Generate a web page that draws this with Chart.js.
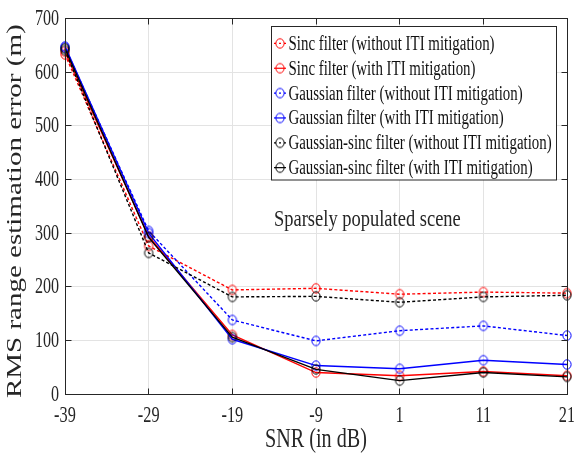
<!DOCTYPE html>
<html><head><meta charset="utf-8">
<script src="https://cdn.jsdelivr.net/npm/chart.js@4.4.0/dist/chart.umd.min.js"></script>
<style>html,body{margin:0;padding:0;background:#fff;overflow:hidden}</style>
</head><body>
<canvas id="c" width="574" height="458" style="display:block;width:574px;height:458px"></canvas>
<script>
// ---- data ----
const snrLabels = ['-39', '-29', '-19', '-9', '1', '11', '21'];
const yMin = 0, yMax = 700, yStep = 100;
const sincNoITI     = [633, 276, 194, 197, 186, 190, 188];
const sincITI       = [638, 294, 110, 40, 34, 42, 34];
const gaussNoITI    = [646, 304, 138, 99, 118, 127, 109];
const gaussITI      = [648, 300, 102, 53, 47, 63, 55];
const gsNoITI       = [641, 263, 181, 182, 171, 181, 184];
const gsITI         = [644, 292, 106, 46, 25, 40, 32];
const seriesNames = [
  'Sinc filter (without ITI mitigation)',
  'Sinc filter (with ITI mitigation)',
  'Gaussian filter (without ITI mitigation)',
  'Gaussian filter (with ITI mitigation)',
  'Gaussian-sinc filter (without ITI mitigation)',
  'Gaussian-sinc filter (with ITI mitigation)'
];
const xTitle = 'SNR (in dB)';
const yTitle = 'RMS range estimation error (m)';
const noteText = 'Sparsely populated scene';

// ---- styles ----
const FONT = '"Liberation Serif", "Times New Roman", serif';
const AX = '#262626';
const DASH = [3, 2.2];

function markerImg(color) {
  const c = document.createElement('canvas');
  c.width = 12; c.height = 13;
  const g = c.getContext('2d');
  g.strokeStyle = color; g.lineWidth = 1;
  g.beginPath(); g.ellipse(6, 6.5, 4.1, 4.7, 0, 0, Math.PI * 2); g.stroke();
  return c;
}
const mk = { r: markerImg('#ff0000'), b: markerImg('#0000ff'), k: markerImg('#000000') };

function ds(label, data, color, m, dashed, idx) {
  return {
    label, data,
    borderColor: color, backgroundColor: 'transparent',
    borderWidth: 1.4, borderDash: dashed ? DASH : [],
    pointStyle: m, pointRadius: 5, pointHoverRadius: 5,
    tension: 0, clip: false, order: 5 - idx, _dashed: dashed
  };
}

const datasets = [
  ds(seriesNames[0], sincNoITI, '#ff0000', mk.r, true, 0),
  ds(seriesNames[1], sincITI, '#ff0000', mk.r, false, 1),
  ds(seriesNames[2], gaussNoITI, '#0000ff', mk.b, true, 2),
  ds(seriesNames[3], gaussITI, '#0000ff', mk.b, false, 3),
  ds(seriesNames[4], gsNoITI, '#000000', mk.k, true, 4),
  ds(seriesNames[5], gsITI, '#000000', mk.k, false, 5)
];

function txt(ctx, s, x, y, size, sx, align, baseline, rot, color) {
  ctx.save();
  ctx.translate(x, y);
  if (rot) { ctx.rotate(rot); ctx.scale(1, sx); } else { ctx.scale(sx, 1); }
  ctx.font = size + 'px ' + FONT;
  ctx.textAlign = align; ctx.textBaseline = baseline;
  ctx.fillStyle = color || AX;
  ctx.fillText(s, 0, 0);
  ctx.restore();
}
const al = v => Math.floor(v) + 0.5;

const decor = {
  id: 'decor',
  afterDraw(chart) {
    const ctx = chart.ctx, a = chart.chartArea;
    const xs = chart.scales.x, ys = chart.scales.y;
    const L = al(a.left), R = al(a.right), T = al(a.top), B = al(a.bottom);
    ctx.save();
    ctx.strokeStyle = AX; ctx.lineWidth = 1; ctx.setLineDash([]);
    ctx.strokeRect(L, T, R - L, B - T);
    const tl = 6;
    ctx.beginPath();
    ys.ticks.forEach(t => {
      const p = al(ys.getPixelForValue(t.value));
      ctx.moveTo(L, p); ctx.lineTo(L + tl, p);
      ctx.moveTo(R, p); ctx.lineTo(R - tl, p);
    });
    xs.ticks.forEach((t, i) => {
      const p = al(xs.getPixelForTick(i));
      ctx.moveTo(p, B); ctx.lineTo(p, B - tl);
      ctx.moveTo(p, T); ctx.lineTo(p, T + tl);
    });
    ctx.stroke();
    ctx.restore();

    // tick labels
    ys.ticks.forEach(t => {
      const p = ys.getPixelForValue(t.value);
      txt(ctx, String(t.value), a.left - 6, p + 6.5, 24, 0.67, 'right', 'alphabetic');
    });
    xs.ticks.forEach((t, i) => {
      const p = xs.getPixelForTick(i);
      txt(ctx, xs.getLabelForValue(t.value), p, 422, 24, 0.68, 'center', 'alphabetic');
    });
    // axis titles
    txt(ctx, xTitle, (a.left + a.right) / 2, 447, 28, 0.72, 'center', 'alphabetic');
    txt(ctx, yTitle, 21, (a.top + a.bottom) / 2 + 5, 29, 0.72, 'center', 'alphabetic', -Math.PI / 2);
    // annotation
    txt(ctx, noteText, 274, 225.5, 24, 0.77, 'left', 'alphabetic');

    // legend
    const bx = 271.5, by = 26.5, bw = 285, bh = 153.5;
    ctx.save();
    ctx.fillStyle = '#ffffff';
    ctx.fillRect(bx, by, bw, bh);
    ctx.strokeStyle = AX; ctx.lineWidth = 1;
    ctx.strokeRect(bx, by, bw, bh);
    chart.data.datasets.forEach((d, i) => {
      const cy = 43.4 + i * 24.85;
      ctx.strokeStyle = d.borderColor; ctx.lineWidth = 1.2;
      if (d._dashed) { ctx.setLineDash([2, 3]); ctx.lineDashOffset = 0; } else ctx.setLineDash([]);
      ctx.beginPath(); ctx.moveTo(274, cy); ctx.lineTo(286, cy); ctx.stroke();
      ctx.setLineDash([]);
      ctx.drawImage(d.pointStyle, 280 - 6, cy - 6.5);
      txt(ctx, d.label, 288.5, cy + 6.5, 20, 0.745, 'left', 'alphabetic', 0, '#111');
    });
    ctx.restore();
  }
};

new Chart(document.getElementById('c'), {
  type: 'line',
  data: { labels: snrLabels, datasets },
  options: {
    responsive: false, animation: false, events: [],
    layout: { padding: { left: 65, right: 7, top: 18.5, bottom: 64 } },
    plugins: { legend: { display: false }, tooltip: { enabled: false } },
    scales: {
      x: {
        type: 'category', offset: false,
        grid: { color: '#e3e3e3', lineWidth: 1, drawTicks: false },
        border: { display: false },
        ticks: { display: false },
        afterFit(s) { s.height = 0; }
      },
      y: {
        min: yMin, max: yMax,
        grid: { color: '#e3e3e3', lineWidth: 1, drawTicks: false },
        border: { display: false },
        ticks: { display: false, stepSize: yStep },
        afterFit(s) { s.width = 0; }
      }
    }
  },
  plugins: [decor]
});
</script>
</body></html>
